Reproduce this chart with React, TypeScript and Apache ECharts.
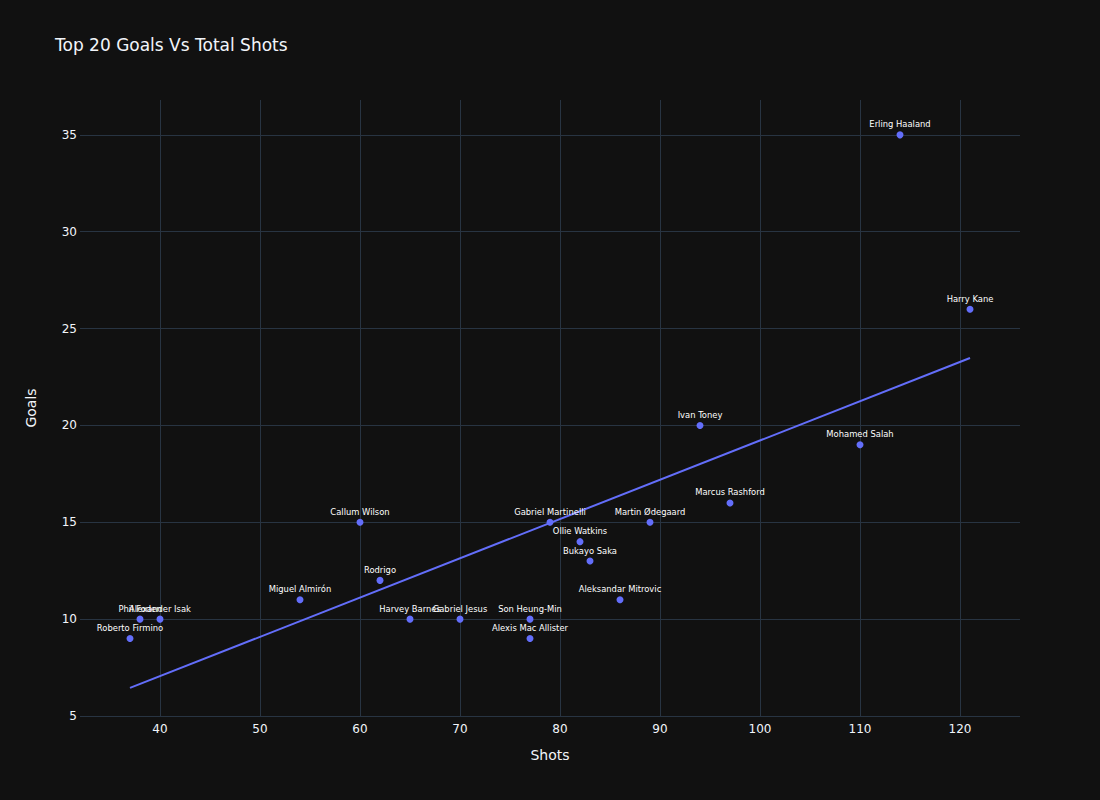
import React, { useEffect, useRef } from "react";
import * as echarts from "echarts";

const players = [
  "Erling Haaland", "Harry Kane", "Mohamed Salah", "Ivan Toney", "Marcus Rashford",
  "Martin Ødegaard", "Gabriel Martinelli", "Ollie Watkins", "Bukayo Saka", "Aleksandar Mitrovic",
  "Callum Wilson", "Rodrigo", "Miguel Almirón", "Harvey Barnes", "Gabriel Jesus",
  "Son Heung-Min", "Alexis Mac Allister", "Phil Foden", "Alexander Isak", "Roberto Firmino",
];
const shots = [114, 121, 110, 94, 97, 89, 79, 82, 83, 86, 60, 62, 54, 65, 70, 77, 77, 38, 40, 37];
const goals = [35, 26, 19, 20, 16, 15, 15, 14, 13, 11, 15, 12, 11, 10, 10, 10, 9, 10, 10, 9];
const trendShots = [37, 121];
const trendGoals = [6.45, 23.48];

const FONT = "'DejaVu Sans', Verdana, sans-serif";
const TEXT = "#f2f5fa";
const GRID = "#283442";
const BLUE = "#636efa";

export default function App() {
  const ref = useRef<HTMLDivElement>(null);
  useEffect(() => {
    document.body.style.margin = "0";
    document.body.style.background = "#111111";
    const chart = echarts.init(ref.current!, null, { renderer: "svg" });
    chart.setOption({
      animation: false,
      backgroundColor: "#111111",
      textStyle: { fontFamily: FONT },
      title: {
        text: "Top 20 Goals Vs Total Shots",
        left: 50,
        top: 31,
        textStyle: { color: TEXT, fontSize: 17, fontWeight: "normal", fontFamily: FONT },
      },
      grid: { left: 80, right: 80, top: 100, bottom: 84, containLabel: false },
      xAxis: {
        type: "value",
        min: 32,
        max: 126,
        splitNumber: 9,
        name: "Shots",
        nameLocation: "middle",
        nameGap: 32,
        nameTextStyle: { color: TEXT, fontSize: 14, fontFamily: FONT },
        axisLine: { show: false },
        axisTick: { show: false },
        axisLabel: { color: TEXT, fontSize: 12, margin: 7, showMinLabel: false, showMaxLabel: false, fontFamily: FONT },
        splitLine: { show: true, showMinLine: false, showMaxLine: false, lineStyle: { color: GRID, width: 1 } },
      },
      yAxis: {
        type: "value",
        min: 5,
        max: 36.8,
        splitNumber: 6,
        name: "Goals",
        nameLocation: "middle",
        nameGap: 42,
        nameRotate: 90,
        nameTextStyle: { color: TEXT, fontSize: 14, fontFamily: FONT },
        axisLine: { show: false },
        axisTick: { show: false },
        axisLabel: { color: TEXT, fontSize: 12, margin: 3, showMaxLabel: false, fontFamily: FONT },
        splitLine: { show: true, showMaxLine: false, lineStyle: { color: GRID, width: 1 } },
      },
      series: [
        {
          type: "scatter",
          data: shots.map((s, i) => ({ value: [s, goals[i]], name: players[i] })),
          symbolSize: 7,
          itemStyle: { color: BLUE, opacity: 1 },
          label: {
            show: true,
            position: "top",
            distance: 3,
            formatter: (p: any) => p.name,
            color: "#ffffff",
            fontSize: 8.4,
            fontFamily: FONT,
          },
          z: 3,
        },
        {
          type: "line",
          data: trendShots.map((s, i) => [s, trendGoals[i]]),
          showSymbol: false,
          symbol: "none",
          lineStyle: { color: BLUE, width: 2 },
          z: 2,
        },
      ],
    });
    return () => chart.dispose();
  }, []);
  return <div ref={ref} style={{ width: 1100, height: 800 }} />;
}
